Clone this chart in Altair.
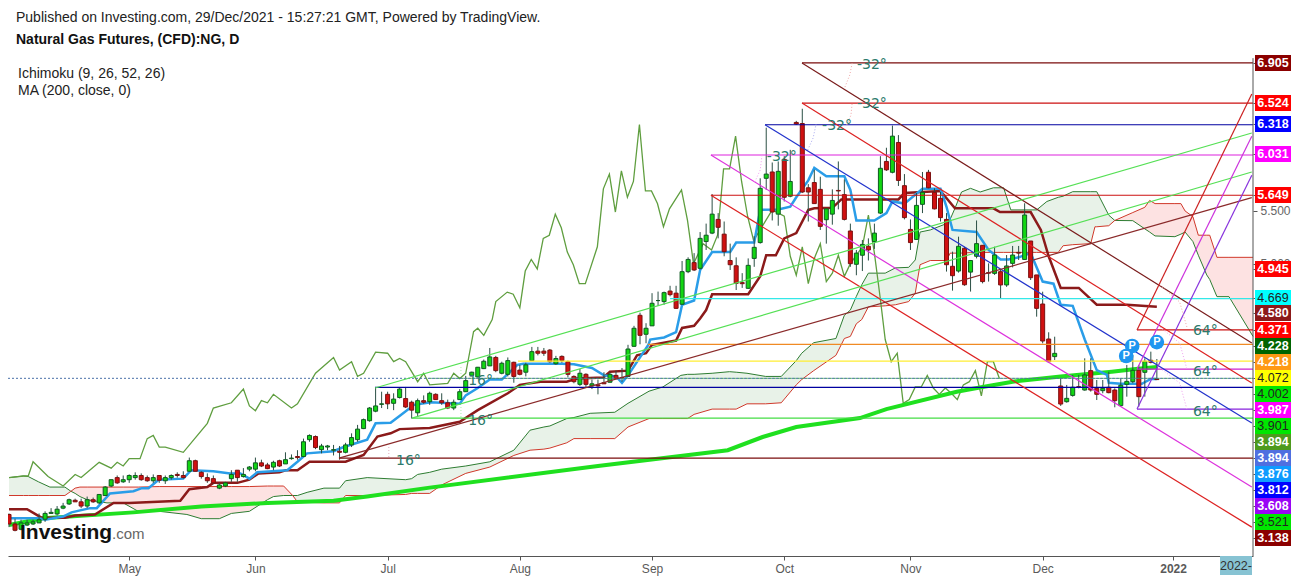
import altair as alt
import pandas as pd

# ---------- candles (one value per trading day) ----------
opens = [2.62,2.53,2.48,2.52,2.53,2.54,2.575,2.63,2.625,2.68,
 2.72,2.755,2.74,2.70,2.76,2.73,2.80,2.89,2.97,2.93,
 2.95,2.97,2.99,2.97,2.94,2.99,2.94,2.97,3.00,2.99,
 3.03,3.13,3.02,2.97,2.96,2.87,2.89,2.96,3.04,2.98,
 3.05,3.05,3.11,3.09,3.07,3.13,3.10,3.15,3.17,3.17,
 3.33,3.36,3.235,3.26,3.23,3.22,3.21,3.28,3.33,3.435,
 3.51,3.60,3.665,3.76,3.675,3.73,3.72,3.685,3.585,3.70,
 3.69,3.76,3.70,3.68,3.63,3.71,3.785,3.94,3.925,4.004,
 4.03,4.11,3.96,3.95,4.064,3.99,3.97,4.08,4.17,4.17,
 4.18,4.05,4.12,4.07,3.93,3.855,3.95,3.84,3.85,3.87,
 3.875,3.94,3.92,3.93,4.216,4.51,4.33,4.41,4.65,4.64,
 4.74,4.72,4.615,4.924,5.01,4.956,5.21,5.29,5.42,5.28,
 5.03,4.98,4.82,4.766,5.05,5.20,5.81,5.87,5.47,5.99,
 5.64,6.34,6.33,5.72,5.77,5.705,5.417,5.47,5.695,5.655,
 5.31,4.994,5.08,5.165,5.21,5.48,5.97,5.867,6.15,5.74,
 5.325,5.23,5.563,5.867,5.677,5.62,5.42,4.975,4.93,5.146,
 4.92,5.07,5.174,4.915,4.908,4.924,4.798,5.003,5.107,5.04,
 5.215,4.893,4.617,4.285,4.118,3.839,3.69,3.75,3.833,3.801,
 3.985,3.817,3.795,3.827,3.801,3.653,3.855,3.88,3.988,3.969,
 4.083,3.906]
highs = [2.63,2.58,2.57,2.57,2.57,2.63,2.65,2.68,2.70,2.73,
 2.77,2.77,2.77,2.79,2.78,2.81,2.89,2.95,2.99,2.99,
 3.00,3.02,3.01,2.99,3.00,2.99,2.99,3.00,3.02,3.03,
 3.16,3.14,3.03,3.01,2.99,2.92,2.93,3.04,3.04,3.06,
 3.08,3.16,3.14,3.11,3.13,3.14,3.21,3.19,3.23,3.34,
 3.38,3.37,3.29,3.28,3.28,3.27,3.30,3.39,3.47,3.53,
 3.64,3.83,3.785,3.785,3.77,3.82,3.83,3.70,3.72,3.75,
 3.785,3.77,3.77,3.71,3.71,3.81,3.935,3.975,4.02,4.09,
 4.20,4.125,4.07,4.11,4.07,4.04,4.06,4.21,4.21,4.20,
 4.19,4.125,4.13,4.08,3.94,4.00,3.96,3.90,3.90,3.97,
 3.97,3.985,4.01,4.23,4.41,4.535,4.435,4.72,4.735,4.735,
 4.79,4.79,5.025,5.06,5.10,5.30,5.38,5.66,5.48,5.40,
 5.19,5.06,4.91,5.05,5.26,5.81,6.29,5.96,5.97,6.02,
 6.08,6.355,6.47,5.755,5.89,5.825,5.525,5.705,5.97,5.80,
 5.38,5.13,5.225,5.24,5.38,6.02,6.10,6.31,6.22,5.85,
 5.42,5.67,5.87,5.89,5.715,5.68,5.48,5.114,5.256,5.16,
 5.035,5.41,5.177,5.003,5.161,4.94,5.082,5.168,5.168,5.573,
 5.215,4.893,4.734,4.349,4.307,3.912,3.849,3.944,3.944,4.102,
 4.102,3.896,3.896,3.975,3.817,3.912,4.039,4.133,4.039,4.102,
 4.165,4.095]
lows = [2.50,2.46,2.47,2.51,2.52,2.54,2.55,2.63,2.61,2.67,
 2.71,2.74,2.68,2.68,2.73,2.72,2.80,2.88,2.91,2.92,
 2.92,2.95,2.94,2.93,2.92,2.92,2.91,2.95,2.97,2.96,
 3.03,3.03,2.96,2.92,2.91,2.86,2.88,2.93,2.93,2.97,
 3.03,3.03,3.07,3.05,3.04,3.07,3.10,3.14,3.14,3.17,
 3.31,3.24,3.20,3.23,3.18,3.14,3.20,3.26,3.31,3.43,
 3.50,3.59,3.63,3.62,3.61,3.72,3.63,3.53,3.55,3.67,
 3.66,3.71,3.66,3.62,3.61,3.71,3.785,3.93,3.92,4.00,
 4.03,3.97,3.95,3.93,3.87,3.94,3.93,4.08,4.13,4.125,
 4.06,4.04,4.06,3.92,3.865,3.84,3.83,3.81,3.76,3.86,
 3.87,3.90,3.88,3.93,4.21,4.235,4.245,4.41,4.60,4.61,
 4.69,4.57,4.61,4.91,4.93,4.945,5.13,5.28,5.24,5.07,
 4.94,4.75,4.77,4.76,4.97,5.19,5.70,5.41,5.36,5.59,
 5.63,6.316,5.67,5.40,5.57,5.32,5.19,5.37,5.515,5.41,
 4.97,4.89,4.93,5.03,5.14,5.47,5.88,5.857,5.737,5.42,
 5.13,5.225,5.48,5.715,5.515,5.40,4.925,4.744,4.915,4.79,
 4.735,5.05,4.813,4.83,4.893,4.67,4.78,4.965,5.035,5.035,
 4.845,4.497,4.244,4.06,4.086,3.65,3.681,3.738,3.817,3.795,
 3.786,3.706,3.77,3.77,3.637,3.643,3.738,3.865,3.643,3.738,
 4.054,3.896]
closes = [2.53,2.47,2.54,2.54,2.55,2.57,2.63,2.64,2.67,2.70,
 2.76,2.74,2.70,2.76,2.74,2.81,2.88,2.95,2.92,2.95,
 2.99,2.99,2.95,2.94,2.97,2.945,2.97,2.99,2.99,2.97,
 3.13,3.03,2.98,2.94,2.92,2.90,2.92,3.00,2.97,3.00,
 3.07,3.11,3.08,3.055,3.115,3.08,3.14,3.155,3.16,3.31,
 3.37,3.255,3.27,3.27,3.235,3.21,3.28,3.35,3.43,3.52,
 3.63,3.65,3.67,3.67,3.715,3.81,3.64,3.61,3.70,3.685,
 3.77,3.71,3.68,3.63,3.685,3.785,3.89,3.97,4.017,4.074,
 4.115,3.985,4.055,4.08,3.93,3.95,4.04,4.165,4.15,4.15,
 4.07,4.10,4.08,3.95,3.88,3.96,3.855,3.86,3.84,3.86,
 3.95,3.91,3.915,4.19,4.387,4.32,4.387,4.624,4.65,4.725,
 4.706,4.576,4.924,5.04,4.94,5.24,5.27,5.47,5.345,5.114,
 4.99,4.813,4.81,4.984,5.155,5.715,5.85,5.49,5.876,5.63,
 5.78,6.325,5.68,5.68,5.57,5.354,5.52,5.60,5.69,5.42,
 5.00,5.10,5.183,5.13,5.29,5.905,5.89,6.21,5.79,5.437,
 5.20,5.553,5.677,5.72,5.52,5.437,4.99,4.886,5.165,4.80,
 5.03,5.19,4.83,4.91,5.082,4.798,4.978,5.082,5.10,5.462,
 4.867,4.576,4.266,4.07,4.149,3.668,3.722,3.827,3.827,3.944,
 3.801,3.76,3.817,3.776,3.70,3.846,3.883,3.988,3.738,4.073,
 4.064,3.90]

# ---------- Ichimoku conversion line ----------
tenkan_x = [0,5,6,9,10.4,13.5,14.6,16.8,20.7,22.1,23.2,24.9,29,30.3,34,36.8,38.5,40,41.3,46.3,48,49.6,54,55.7,59.6,61,63.5,65.2,67.4,70.2,75,76,78,80,82,84.6,85.6,92,94,97,99,101,102,103,106.4,106.7,109,111,112,114,115,117,120,121,124,125,128,130,131,133,134,136,139,140,141,144,146,147,149,152,155,156,157,161,163,165,166.3,168,170,172,173.8,175,177,179,181,182.7,183,185,188.5,190,191]
tenkan_y = [2.585,2.585,2.57,2.60,2.64,2.68,2.68,2.82,2.84,2.87,2.87,2.95,2.96,3.04,3.03,3.01,3.01,2.96,3.02,3.04,3.12,3.20,3.22,3.26,3.33,3.485,3.49,3.565,3.66,3.685,3.67,3.75,3.82,3.90,3.90,4.04,4.05,4.05,4.045,4.01,3.94,3.93,3.87,3.94,4.23,4.28,4.30,4.35,4.61,4.65,4.94,5.11,5.11,5.20,5.20,5.51,5.515,5.54,5.63,5.79,5.91,5.83,5.83,5.70,5.41,5.41,5.48,5.59,5.57,5.71,5.71,5.54,5.32,5.30,5.13,5.04,5.04,5.06,5.10,4.83,4.81,4.61,4.60,4.28,3.99,3.945,3.87,3.86,3.86,3.906,3.906]

# ---------- Ichimoku base line ----------
kijun_x = [0,3,5.4,9.3,11,14.3,17.4,20,28.5,30,33,34,38,40,41.5,45,46,48,50,56,59,61.3,63.5,65,70,75,78,83,85,88.4,92.8,94.5,98.9,100,103,104.5,106,107,111,112,114,115,116,117,123,125,126,127.6,129,131,133,134,137,138.5,148,149,155,157.4,163.8,164.9,170,171.7,173,175,178,181,186,191]
kijun_y = [2.67,2.67,2.59,2.59,2.61,2.62,2.73,2.73,2.75,2.86,2.88,2.92,2.92,2.95,3.01,3.02,3.04,3.04,3.12,3.12,3.185,3.36,3.39,3.43,3.44,3.50,3.61,3.77,3.85,3.88,3.88,3.91,3.92,3.975,3.985,4.13,4.15,4.23,4.27,4.39,4.41,4.48,4.56,4.71,4.71,4.88,5.08,5.08,5.24,5.29,5.51,5.525,5.53,5.61,5.61,5.67,5.69,5.525,5.525,5.49,5.49,5.32,5.07,4.77,4.77,4.61,4.61,4.59]

# ---------- Ichimoku lagging span ----------
lag_x = [0,2.4,3.2,4,6.5,9,11,12,15,17,18,19,20,21.8,23,24,25,26,29,33,34,37,39,40,41,42,43,44,47,48,51,54,55,57,58,59,61,63,64,65,66,68,69,70,73,74,75,76,77.3,78,79,80.4,81,82.9,83.9,85,85.9,86.9,87.9,88.9,89.9,90.9,91.9,92.9,93.9,94.9,95.9,97.9,98.9,99.9,100.9,101.9,102.9,103.9,104.9,105.9,106.9,107.9,108.9,109.9,111.9,112.9,113.9,115.5,116.9,117.9,118.9,119.9,120.9,121.9,122.9,123.9,127,129,130,131,132,133,134,135,136,137,138,139,140,142,143,144,145,145.8,146.8,147.8,148.8,149.8,150.8,151.8,152.8,153.8,154.8,155.8,156.8,157.8,158.8,159.8,160.8,161.8,162.8,163.8,164.8]
lag_y = [2.97,2.985,2.985,3.12,2.98,2.89,3.0,2.97,3.115,3.06,3.115,3.08,3.15,3.15,3.34,3.37,3.26,3.26,3.21,3.485,3.63,3.68,3.81,3.65,3.605,3.70,3.68,3.76,3.63,3.67,3.96,4.11,3.99,4.07,3.93,3.96,4.16,4.15,4.07,4.10,4.07,3.88,3.96,3.85,3.865,3.96,3.91,3.96,4.355,4.387,4.32,4.47,4.64,4.73,4.71,4.58,4.93,5.04,4.95,5.24,5.27,5.47,5.34,5.11,4.99,4.81,4.81,5.16,5.71,5.85,5.49,5.88,5.63,5.78,6.32,5.69,5.69,5.57,5.35,5.52,5.70,5.41,5.0,5.19,5.13,5.27,5.90,5.90,6.21,5.78,5.45,5.22,5.51,5.45,5.07,4.89,5.16,4.81,5.05,5.19,4.83,4.91,5.08,4.88,5.0,5.16,5.46,5.10,4.66,4.28,4.07,4.15,3.675,3.71,3.83,3.83,3.94,3.82,3.76,3.82,3.77,3.71,3.85,3.88,3.985,3.745,4.07,4.07,3.91]

# ---------- 200-day moving average ----------
ma_x = [0,5.7,20.7,32,43,54,59.6,70,98,119.6,125.4,131,141.6,146,157.7,162,167,175,183.5,187.5,191]
ma_y = [2.52,2.585,2.64,2.695,2.73,2.75,2.79,2.875,3.08,3.23,3.355,3.45,3.535,3.62,3.785,3.83,3.88,3.93,3.975,4.0,4.02]

# ---------- Ichimoku cloud (leading spans A and B, same positions) ----------
cloud_x = [0,2.4,3.2,4.9,6.8,9.3,10.3,11,11.8,13,16.3,19,21.5,25,29.6,32,35,37,40,43,44,45.7,47.2,48,49.6,52.4,55,56,59.6,66,67,68,70,72,76,80,84,86.7,89,90,92.8,94,96.7,100.8,103,106.5,108.8,111.8,112.9,114,117,119.9,121,122.8,125.9,128.5,131,131.9,133.9,137.6,139,140,141,141.9,143,145.8,147.5,149.7,150.8,151.6,153.3,156,156.6,157.4,158.5,160,161.6,163.8,165.5,166.7,171,172.7,174.6,175.4,177,180,180.7,181,183,184,187,189,189.8,190.7,194,195,195.7,197,197.9,199.3,199.8,201,203,207]
span_a = [2.97,2.985,2.98,2.93,2.88,2.88,2.84,2.82,2.79,2.76,2.73,2.73,2.65,2.65,2.62,2.58,2.58,2.63,2.65,2.76,2.79,2.80,2.80,2.80,2.83,2.87,2.87,2.94,2.97,2.95,2.96,3.0,3.02,3.05,3.08,3.12,3.23,3.42,3.45,3.46,3.53,3.54,3.58,3.59,3.675,3.79,3.83,3.94,3.95,3.95,3.96,3.975,3.97,3.96,3.93,3.93,4.08,4.15,4.25,4.29,4.51,4.56,4.69,4.80,4.91,4.91,4.96,4.965,5.035,5.30,5.32,5.38,5.42,5.525,5.68,5.715,5.68,5.72,5.72,5.51,5.51,5.59,5.63,5.64,5.683,5.683,5.683,5.683,5.46,5.41,5.408,5.33,5.30,5.263,5.256,5.28,5.30,5.21,5.08,4.893,4.85,4.687,4.687,4.31]
span_b = [2.80,2.80,2.80,2.80,2.80,2.80,2.84,2.87,2.88,2.88,2.88,2.88,2.88,2.885,2.885,2.885,2.885,2.885,2.885,2.89,2.89,2.89,2.80,2.74,2.735,2.73,2.73,2.80,2.80,2.81,2.82,2.82,2.82,2.90,3.01,3.07,3.18,3.23,3.24,3.25,3.30,3.34,3.34,3.34,3.45,3.53,3.53,3.53,3.53,3.57,3.62,3.62,3.62,3.67,3.67,3.68,3.85,3.90,3.985,4.13,4.29,4.31,4.43,4.47,4.59,4.60,4.61,4.64,4.72,4.99,5.03,5.03,5.10,5.10,5.10,5.105,5.107,5.107,5.107,5.107,5.107,5.107,5.107,5.17,5.18,5.19,5.35,5.35,5.36,5.41,5.485,5.535,5.60,5.57,5.57,5.57,5.50,5.446,5.27,5.27,5.27,5.06,5.06,5.06]

# ---------- drawn lines ----------
seg_x1 = [131.95,131.95,125.8,116.8,116.8,110,187.7,106.3,84.7,187.7,60.9,187.7,67.05,54.9,
          131.95,131.95,125.8,116.8,116.8,60.9,67.05,54.9,187.7,187.7,187.7]
seg_y1 = [6.905,6.524,6.318,6.031,5.649,4.669,4.371,4.235,4.076,4.00,3.827,3.62,3.535,3.155,
          6.905,6.524,6.318,6.031,5.649,3.82,3.535,3.155,4.371,4.00,3.62]
seg_x2 = [207]*14 + [206.8]*11
seg_y2 = [6.905,6.524,6.318,6.031,5.649,4.669,4.371,4.235,4.076,4.00,3.827,3.62,3.535,3.155,
          4.247,3.867,3.488,2.88,2.50,6.24,5.87,5.626,6.61,6.21,5.84]
seg_colors = ["#7a0c0c","#cc1111","#0000a0","#dd22dd","#cc1111","#33e8e8","#cc1111","#f08a24","#ffee33","#cc22cc","#0000a0","#8822dd","#44dd44","#7a0c0c",
              "#7a1c1c","#dd2222","#2233cc","#dd33dd","#dd2222","#55e055","#55e055","#8a2a2a","#cc2222","#cc33dd","#8833dd"]

# ---------- angle arcs ----------
arc_ids = [0,0,0,1,1,1,2,2,2,3,3,3,4,4,5,5,6,6,7,7,7,8,8,8,9,9,9]
arc_x = [140.3,139.9,139.1,140.3,140.1,139.4,134.3,133.8,132.9,125.3,125,124.1,63.2,63.2,75.2,75.2,75.2,75.2,191.5,194.8,196,191.5,194.8,196,191.5,194.8,196]
arc_y = [6.904,6.79,6.676,6.525,6.41,6.316,6.325,6.192,6.079,6.031,5.889,5.775,3.26,3.155,4.019,3.934,3.64,3.535,4.797,4.636,4.399,4.399,4.247,4.0,4.01,3.867,3.62]
arc_colors = ["#f0a8a8"]*3+["#f0a8a8"]*3+["#a8a8f0"]*3+["#f0a0f0"]*3+["#e0a8b8"]*2+["#a8f0a8"]*4+["#f0a8a8"]*3+["#f0a0f0"]*3+["#f0a0f0"]*3

angle_text = ["-32°","-32°","-32°","-32°","16°","16°","16°","64°","64°","64°"]
angle_x = [141.1,141.1,135.3,126.1,64.4,76.4,76.4,197,197,197]
angle_y = [6.885,6.515,6.306,6.012,3.127,3.886,3.507,4.361,3.972,3.592]

# ---------- P markers ----------
p_x = [185.9,186.9,191]
p_y = [4.124,4.219,4.256]

# ---------- price tags ----------
tag_text = ["6.905","6.524","6.318","6.031","5.649","4.945","4.669","4.580","4.371","4.228","4.218","4.072","4.002","3.987","3.901","3.894","3.894","3.876","3.812","3.608","3.521","3.138"]
tag_slot = [6.904,6.525,6.325,6.04,5.651,4.949,4.674,4.532,4.37,4.218,4.067,3.915,3.763,3.611,3.459,3.307,3.156,3.004,2.852,2.70,2.548,2.396]
tag_bg = ["#8b0000","#ff0000","#0000ff","#ff00ff","#ff0000","#ff0000","#00ffff","#8b1a1a","#ff0000","#006400","#ff9914","#ffff00","#00e600","#ff00ff","#00e600","#4e9a1e","#4f6fe0","#0f9bff","#0000ff","#9a05f5","#00e600","#8b0000"]
tag_fg = ["#ffffff","#ffffff","#ffffff","#ffffff","#ffffff","#ffffff","#222222","#ffffff","#ffffff","#ffffff","#ffffff","#222222","#222222","#ffffff","#222222","#ffffff","#ffffff","#ffffff","#ffffff","#ffffff","#222222","#ffffff"]

plain_ticks = [5.5, 5.0]
month_ticks = [20,41,63,85,107,129,150,172,193.7]
month_labels = ["May","Jun","Jul","Aug","Sep","Oct","Nov","Dec","2022"]
header_lines = ["Published on Investing.com, 29/Dec/2021 - 15:27:21 GMT, Powered by TradingView.",
                "Natural Gas Futures, (CFD):NG, D"]
legend_lines = ["Ichimoku (9, 26, 52, 26)", "MA (200, close, 0)"]

# ---------- scales ----------
X_DOM = [-0.17, 207]
Y_DOM = [2.226, 7.426]
SPINE_TOP = 6.95
xs = alt.Scale(domain=X_DOM, nice=False, zero=False, padding=0)
ys = alt.Scale(domain=Y_DOM, nice=False, zero=False, padding=0)

def X(f, axis=None):
    return alt.X(f, type="quantitative", scale=xs, axis=axis)

def Y(f, axis=None):
    return alt.Y(f, type="quantitative", scale=ys, axis=axis)

month_expr = " : ".join(f"abs(datum.value - {t}) < 0.01 ? '{l}'" for t, l in zip(month_ticks, month_labels)) + " : ''"
price_expr = "abs(datum.value - 5.5) < 0.001 ? '5.500' : abs(datum.value - 5) < 0.001 ? '5.000' : ''"

x_axis = alt.Axis(values=month_ticks, labelExpr=month_expr, title=None, grid=False, orient="bottom",
                  domainColor="#555555", tickColor="#555555", tickSize=4, labelColor="#5a5a5a",
                  labelFont="Liberation Sans", labelFontSize=12, labelPadding=3, labelFlush=False,
                  labelOverlap=False,
                  labelFontWeight={"condition": {"test": "datum.value > 190", "value": "bold"}, "value": "normal"})
y_axis = alt.Axis(values=tag_slot + plain_ticks, labelExpr=price_expr, title=None, grid=False, orient="right",
                  domain=False, tickColor="#555555", tickSize=4, labelColor="#666666",
                  labelFont="Liberation Sans", labelFontSize=12, labelPadding=3, labelOverlap=False)

# ---------- layers ----------
cloud = pd.DataFrame({"i": cloud_x, "a": span_a, "b": span_b})
base = alt.Chart(cloud).mark_area(color="#e8f2e8", opacity=1).transform_filter("datum.a >= datum.b").encode(
    x=X("i", x_axis), y=Y("a", y_axis), y2=alt.Y2("b"))
red_cloud = alt.Chart(cloud).mark_area(color="#fde2e2", opacity=1).transform_filter("datum.b >= datum.a").encode(
    x=X("i"), y=Y("a"), y2=alt.Y2("b"))

spine = alt.Chart(pd.DataFrame({"i": [X_DOM[1]], "a": [Y_DOM[0]], "b": [SPINE_TOP]})).mark_rule(
    color="#555555", strokeWidth=1).encode(x=X("i"), y=Y("a"), y2=alt.Y2("b"))

def line(xv, yv, color, width, **kw):
    df = pd.DataFrame({"i": xv, "p": yv})
    return alt.Chart(df).mark_line(color=color, strokeWidth=width, **kw).encode(x=X("i"), y=Y("p"))

span_a_line = alt.Chart(cloud).mark_line(color="#2e7d32", strokeWidth=1).encode(x=X("i"), y=Y("a"))
span_b_line = alt.Chart(cloud).mark_line(color="#d0392b", strokeWidth=1).encode(x=X("i"), y=Y("b"))
lag_line = line(lag_x, lag_y, "#5f9e3f", 1.3)
ma_line = line(ma_x, ma_y, "#1fe01f", 4)
kijun_line = line(kijun_x, kijun_y, "#8b1a1a", 2.5)
tenkan_line = line(tenkan_x, tenkan_y, "#2a9de8", 2.5)

candles = pd.DataFrame({"i": list(range(len(opens))), "o": opens, "h": highs, "l": lows, "c": closes})
candles["fill"] = ["#12d612" if c >= o else "#d01010" for o, c in zip(opens, closes)]
candles["edge"] = ["#0f5a22" if c >= o else "#7a1010" for o, c in zip(opens, closes)]
wicks = alt.Chart(candles).mark_rule(color="#2b4f45", strokeWidth=1).encode(x=X("i"), y=Y("l"), y2=alt.Y2("h"))
bodies = alt.Chart(candles).mark_bar(size=4, strokeWidth=1).encode(
    x=X("i"), y=Y("o"), y2=alt.Y2("c"),
    fill=alt.Fill("fill:N", scale=None), stroke=alt.Stroke("edge:N", scale=None))

segs = pd.DataFrame({"x1": seg_x1, "x2": seg_x2, "y1": seg_y1, "y2": seg_y2, "col": seg_colors})
seg_layer = alt.Chart(segs).mark_rule(strokeWidth=1.2).encode(
    x=X("x1"), x2=alt.X2("x2"), y=Y("y1"), y2=alt.Y2("y2"), color=alt.Color("col:N", scale=None))

dots = pd.DataFrame({"p": [3.912, 3.912], "i": [-0.17, 207]})
dot_line = alt.Chart(dots).mark_line(color="#4a70a8", strokeWidth=1, strokeDash=[2, 2]).encode(x=X("i"), y=Y("p"))
dots2 = pd.DataFrame({"p": [3.912, 3.912], "i": [70, 207]})
dot_line2 = alt.Chart(dots2).mark_line(color="#3a9a5a", strokeWidth=1, strokeDash=[2, 2]).encode(x=X("i"), y=Y("p"))

arcs = pd.DataFrame({"id": arc_ids, "i": arc_x, "p": arc_y, "col": arc_colors})
arc_layer = alt.Chart(arcs).mark_line(strokeWidth=1, strokeDash=[1, 2]).encode(
    x=X("i"), y=Y("p"), detail="id:N", color=alt.Color("col:N", scale=None))

angles = pd.DataFrame({"i": angle_x, "p": angle_y, "t": angle_text})
angle_layer = alt.Chart(angles).mark_text(align="left", baseline="middle", font="DejaVu Sans", fontSize=14,
                                          color="#2c7a6c").encode(x=X("i"), y=Y("p"), text="t:N")

pm = pd.DataFrame({"i": p_x, "p": p_y, "t": ["P", "P", "P"]})
p_circles = alt.Chart(pm).mark_circle(size=215, color="#1e96f0", opacity=1).encode(x=X("i"), y=Y("p"))
p_text = alt.Chart(pm).mark_text(font="Liberation Sans", fontSize=11, fontWeight="bold", color="white",
                                 baseline="middle").encode(x=X("i"), y=Y("p"), text="t:N")

tags = pd.DataFrame({"t": tag_text, "s": tag_slot, "bg": tag_bg, "fg": tag_fg})
tags["top"] = tags["s"] + 0.076
tags["bot"] = tags["s"] - 0.076
tag_rects = alt.Chart(tags).mark_rect().encode(
    x=alt.value(1247), x2=alt.value(1283), y=Y("top"), y2=alt.Y2("bot"), color=alt.Color("bg:N", scale=None))
tag_white = alt.Chart(tags).transform_filter("datum.fg == '#ffffff'").mark_text(
    font="Liberation Sans", fontSize=12.5, fontWeight="bold", baseline="middle").encode(
    x=alt.value(1265), y=Y("s"), text="t:N", color=alt.Color("fg:N", scale=None))
tag_dark = alt.Chart(tags).transform_filter("datum.fg != '#ffffff'").mark_text(
    font="Liberation Sans", fontSize=12.5, baseline="middle").encode(
    x=alt.value(1265), y=Y("s"), text="t:N", color=alt.Color("fg:N", scale=None))

one = pd.DataFrame({"k": [0]})

def label(txt, x, y, size, color="#222222", weight="normal", align="left", font="Liberation Sans"):
    return alt.Chart(one).mark_text(align=align, baseline="alphabetic", font=font, fontSize=size,
                                    fontWeight=weight, color=color).encode(
        x=alt.value(x), y=alt.value(y), text=alt.value(txt))

box2022 = alt.Chart(one).mark_rect(color="#87c3d3").encode(
    x=alt.value(1212), x2=alt.value(1244), y=alt.value(548), y2=alt.value(567))

texts = [
    label(header_lines[0], 8, 13.5, 14),
    label(header_lines[1], 8, 36, 14, color="#111111", weight="bold"),
    label(legend_lines[0], 10, 70, 14),
    label(legend_lines[1], 10, 87, 14),
    label("Investing", 12, 531, 21, color="#111111", weight="bold"),
    label(".com", 104, 531, 15, color="#666666"),
    box2022,
    label("2022-", 1228, 562, 12.5, color="#333333", align="center"),
]

chart = alt.layer(
    base, red_cloud, span_a_line, span_b_line, lag_line, ma_line, kijun_line, tenkan_line,
    wicks, bodies, dot_line, dot_line2, seg_layer, arc_layer, angle_layer, spine,
    p_circles, p_text, tag_rects, tag_white, tag_dark, *texts
).resolve_axis(x="independent", y="independent").properties(
    width=1245, height=548,
    padding={"left": 0, "top": 0, "right": 38, "bottom": 22},
    autosize=alt.AutoSizeParams(type="none"),
    background="white",
).configure_view(stroke=None)

chart.save("out.html", embed_options={"renderer": "svg", "actions": False})
